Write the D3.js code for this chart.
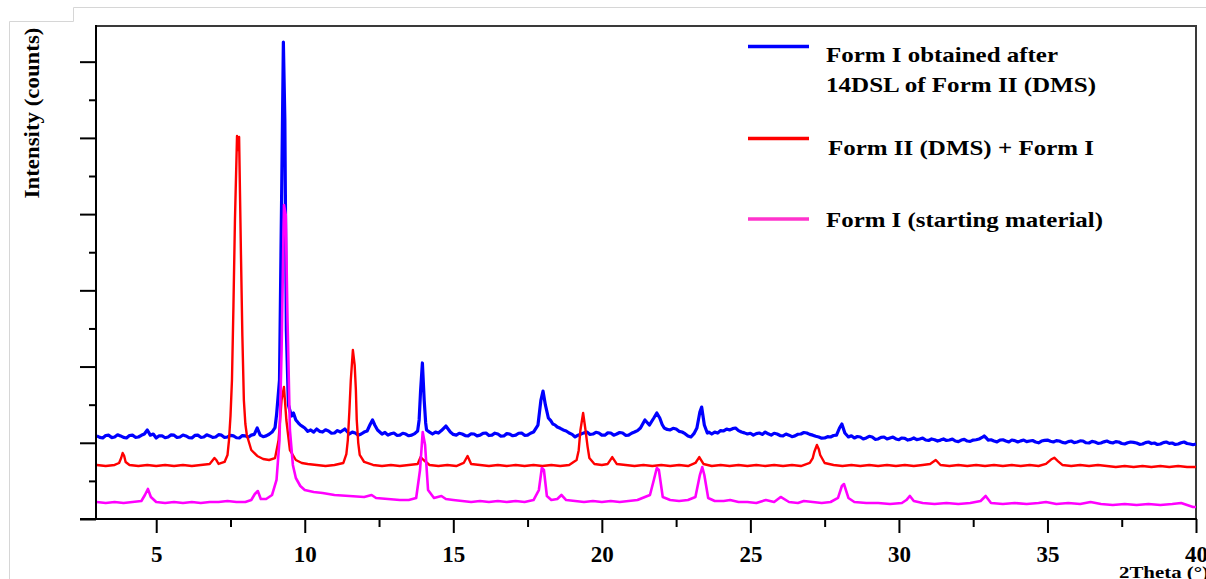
<!DOCTYPE html>
<html>
<head>
<meta charset="utf-8">
<script src="https://cdn.jsdelivr.net/npm/d3@7"></script>
<style>
  html, body { margin: 0; padding: 0; background: #ffffff; }
  svg { display: block; }
  text { font-family: "Liberation Serif", "Times New Roman", Tinos, serif; font-weight: bold; fill: #000; }
</style>
</head>
<body>
<svg id="chart" width="1206" height="579"></svg>
<script>
// ---- Data (2Theta in degrees, intensity in counts) ----
const seriesNames = [
  ["Form I obtained after", "14DSL of Form II (DMS)"],
  ["Form II (DMS) + Form I"],
  ["Form I (starting material)"]
];
const seriesColors = ["#0000ff", "#ff0000", "#ff00ff"];
const legendColors = ["#0000ff", "#ff0000", "#ff33cc"];

const blueData = [
  [3.0,1090],[3.1,1070],[3.2,1063],[3.3,1095],[3.4,1100],[3.5,1068],[3.6,1076],[3.7,1105],[3.8,1090],[3.9,1070],[4.0,1063],
  [4.1,1095],[4.2,1100],[4.3,1072],[4.4,1076],[4.5,1098],[4.6,1115],[4.7,1168],[4.8,1100],[4.9,1115],[5.0,1063],[5.1,1092],
  [5.2,1090],[5.3,1066],[5.4,1076],[5.5,1104],[5.6,1100],[5.7,1070],[5.8,1076],[5.9,1102],[6.0,1090],[6.1,1068],[6.2,1063],
  [6.3,1096],[6.4,1100],[6.5,1072],[6.6,1076],[6.7,1104],[6.8,1090],[6.9,1070],[7.0,1076],[7.1,1106],[7.2,1100],[7.3,1070],
  [7.4,1076],[7.5,1098],[7.6,1090],[7.7,1066],[7.8,1063],[7.9,1094],[8.0,1090],[8.1,1072],[8.2,1100],[8.3,1110],[8.4,1194],
  [8.5,1100],[8.6,1080],[8.7,1090],[8.8,1112],[8.9,1141],[9.0,1200],[9.05,1364],
  [9.15,1824],[9.22,4185],[9.28,6258],[9.33,5235],[9.38,2480],[9.45,1496],[9.55,1351],[9.62,1391],[9.7,1299],[9.78,1262],[9.85,1233],
  [9.92,1215],[10.0,1194],[10.1,1150],[10.2,1168],[10.3,1140],[10.4,1181],[10.5,1150],[10.6,1141],[10.7,1170],[10.8,1155],[10.9,1125],[11.0,1128],
  [11.1,1160],[11.2,1141],[11.35,1181],[11.5,1115],[11.6,1140],[11.7,1128],[11.8,1100],
  [11.9,1115],[12.0,1140],[12.1,1155],[12.2,1240],[12.28,1299],[12.36,1230],[12.45,1168],[12.6,1115],[12.7,1135],[12.8,1100],[12.9,1118],[13.0,1128],[13.1,1098],[13.2,1100],[13.3,1125],[13.4,1115],[13.5,1092],[13.6,1100],
  [13.7,1120],[13.8,1155],[13.85,1300],[13.9,1692],[13.96,2047],[14.02,1561],[14.07,1260],[14.1,1168],[14.2,1140],[14.3,1115],[14.4,1140],[14.5,1128],[14.6,1160],[14.75,1220],[14.9,1141],[15.0,1110],[15.1,1100],
  [15.2,1125],[15.3,1115],[15.4,1095],[15.5,1090],[15.6,1118],[15.7,1115],[15.8,1090],[15.9,1100],[16.0,1124],[16.1,1128],[16.2,1095],[16.3,1100],[16.4,1126],[16.5,1115],[16.6,1088],[16.7,1090],[16.8,1120],[16.9,1115],[17.0,1092],[17.1,1100],
  [17.2,1125],[17.3,1128],[17.4,1098],[17.5,1100],[17.6,1125],[17.7,1141],[17.85,1233],[17.95,1561],[18.02,1679],[18.1,1496],[18.2,1325],[18.28,1290],[18.35,1246],[18.42,1235],[18.5,1207],
  [18.6,1190],[18.7,1168],[18.8,1155],[18.9,1128],[19.0,1110],[19.1,1076],[19.2,1100],[19.3,1115],[19.4,1130],[19.5,1141],[19.6,1110],[19.7,1115],[19.8,1138],[19.9,1128],[20.0,1100],[20.1,1100],[20.2,1130],[20.3,1128],[20.4,1100],[20.5,1115],
  [20.6,1135],[20.7,1128],[20.8,1098],[20.9,1100],[21.0,1125],[21.1,1141],[21.2,1160],[21.3,1194],[21.45,1299],[21.6,1233],[21.75,1325],[21.85,1391],[21.95,1325],[22.03,1240],[22.1,1194],
  [22.2,1175],[22.3,1168],[22.4,1190],[22.5,1181],[22.6,1150],[22.7,1141],[22.8,1120],[22.9,1089],[23.0,1076],[23.1,1120],[23.2,1194],[23.3,1404],[23.36,1469],[23.45,1233],[23.55,1128],
  [23.6,1140],[23.7,1115],[23.8,1140],[23.9,1128],[24.0,1160],[24.1,1155],[24.2,1180],[24.3,1168],[24.4,1185],[24.5,1194],[24.6,1160],[24.7,1141],[24.8,1130],[24.9,1115],[25.0,1125],[25.1,1100],[25.2,1120],[25.3,1128],[25.4,1110],[25.5,1141],
  [25.6,1118],[25.7,1100],[25.8,1125],[25.9,1115],[26.0,1095],[26.1,1090],[26.2,1115],[26.3,1100],[26.4,1080],[26.5,1090],[26.6,1112],[26.7,1115],[26.8,1135],[26.9,1128],[27.0,1110],[27.1,1100],[27.2,1085],[27.3,1076],[27.4,1060],[27.5,1063],
  [27.6,1080],[27.7,1076],[27.8,1095],[27.9,1100],[28.0,1194],[28.08,1246],[28.18,1128],[28.3,1076],[28.4,1092],[28.5,1063],[28.6,1082],[28.7,1076],[28.8,1050],[28.9,1063],[29.0,1085],[29.1,1076],
  [29.2,1045],[29.3,1050],[29.4,1072],[29.5,1076],[29.6,1050],[29.7,1063],[29.8,1075],[29.9,1050],[30.0,1040],[30.1,1063],[30.2,1058],[30.3,1036],[30.4,1045],[30.5,1063],[30.6,1042],[30.7,1050],[30.8,1062],[30.9,1036],[31.0,1030],[31.1,1050],
  [31.2,1040],[31.3,1023],[31.4,1035],[31.5,1050],[31.6,1030],[31.7,1036],[31.8,1048],[31.9,1023],[32.0,1015],[32.1,1036],[32.2,1045],[32.3,1023],[32.4,1018],[32.5,1036],[32.6,1040],[32.7,1050],[32.8,1070],[32.87,1089],[32.95,1060],[33.0,1036],
  [33.1,1040],[33.2,1023],[33.3,1012],[33.4,1036],[33.5,1040],[33.6,1023],[33.7,1010],[33.8,1036],[33.9,1028],[34.0,1010],[34.1,1025],[34.2,1036],[34.3,1015],[34.4,1023],[34.5,1030],[34.6,1010],[34.7,1000],[34.8,1023],[34.9,1032],[35.0,1036],
  [35.1,1020],[35.2,1010],[35.3,1028],[35.4,1023],[35.5,1005],[35.6,997],[35.7,1015],[35.8,1023],[35.9,1002],[36.0,1010],[36.1,1025],[36.2,1023],[36.3,1000],[36.4,997],[36.5,1018],[36.6,1010],[36.7,992],[36.8,997],[36.9,1012],[37.0,1023],
  [37.1,1005],[37.2,997],[37.3,1015],[37.4,1010],[37.5,990],[37.6,984],[37.7,1000],[37.8,1010],[37.9,1005],[38.0,997],[38.1,980],[38.2,984],[38.3,1002],[38.4,1010],[38.5,990],[38.6,997],[38.7,978],[38.8,984],[38.9,1002],[39.0,1010],
  [39.1,992],[39.2,997],[39.3,978],[39.4,984],[39.5,1000],[39.6,1010],[39.7,990],[39.8,984],[39.9,975],[40.0,984]
];

const redData = [
  [3.0,709],[3.3,695],[3.6,709],[3.75,735],[3.82,800],[3.87,866],[3.92,830],[3.97,748],[4.1,709],[4.4,695],[4.7,709],[5.0,695],[5.3,709],[5.6,695],
  [5.9,709],[6.2,695],[6.5,709],[6.8,722],[6.9,770],[6.96,800],[7.03,770],[7.1,722],[7.3,748],[7.4,840],[7.45,1036],[7.5,1350],[7.55,1824],[7.6,2800],[7.65,3923],[7.72,5025],
  [7.76,4841],[7.79,5012],[7.85,3529],[7.9,2400],[7.95,1561],[8.0,1250],[8.05,1102],[8.2,905],[8.4,827],[8.6,787],[8.8,774],[9.0,800],[9.12,1036],
  [9.22,1561],[9.3,1732],[9.38,1299],[9.5,905],[9.7,774],[9.9,735],[10.1,722],[10.4,709],[10.7,695],[11.0,709],[11.3,735],[11.4,850],
  [11.45,1036],[11.5,1400],[11.55,1824],[11.62,2217],[11.68,2020],[11.72,1700],[11.75,1299],[11.8,1000],[11.85,840],[12.0,748],[12.3,709],[12.6,695],[12.9,709],
  [13.2,695],[13.5,709],[13.8,722],[13.9,813],[14.0,774],[14.2,709],[14.5,695],[14.8,709],[15.1,695],[15.35,735],[15.48,827],
  [15.6,722],[15.9,709],[16.2,695],[16.5,709],[16.8,695],[17.1,709],[17.4,695],[17.7,709],[18.0,695],[18.3,709],[18.6,695],
  [18.9,709],[19.15,774],[19.22,900],[19.28,1168],[19.37,1391],[19.45,1168],[19.52,950],[19.58,800],[19.75,722],[20.0,709],[20.2,722],[20.35,813],
  [20.5,722],[20.8,709],[21.1,695],[21.4,709],[21.7,695],[22.0,709],[22.3,695],[22.6,709],[22.9,695],[23.15,735],[23.28,813],
  [23.42,722],[23.7,695],[24.0,709],[24.3,695],[24.6,709],[24.9,695],[25.2,709],[25.5,695],[25.8,709],[26.1,695],[26.4,709],
  [26.7,695],[27.0,735],[27.1,800],[27.15,879],[27.24,971],[27.3,920],[27.35,840],[27.5,735],[27.8,709],[28.1,695],[28.4,709],[28.7,695],[29.0,709],
  [29.3,695],[29.6,709],[29.9,695],[30.2,709],[30.5,695],[30.8,709],[31.05,722],[31.24,774],[31.4,709],[31.7,695],[32.0,709],
  [32.3,695],[32.6,709],[32.9,695],[33.2,709],[33.5,695],[33.8,709],[34.1,695],[34.4,709],[34.7,695],[34.95,722],[35.12,780],
  [35.23,804],[35.35,760],[35.5,709],[35.8,695],[36.1,709],[36.4,695],[36.7,709],[37.0,695],[37.3,682],[37.6,695],[37.9,682],
  [38.2,695],[38.5,682],[38.8,695],[39.1,682],[39.4,695],[39.7,682],[40.0,682]
];

const magentaData = [
  [3.0,223],[3.3,210],[3.6,223],[3.9,210],[4.2,223],[4.5,236],[4.62,315],[4.72,394],[4.82,289],[5.0,223],[5.3,210],[5.6,223],
  [5.9,210],[6.2,223],[6.5,210],[6.8,223],[7.1,223],[7.4,236],[7.7,223],[8.0,223],[8.2,249],[8.32,328],[8.42,367],[8.52,262],
  [8.7,262],[8.9,315],[9.05,512],[9.15,1036],[9.22,2217],[9.3,4120],[9.36,3989],[9.42,2611],[9.5,1168],[9.6,709],[9.7,538],
  [9.85,433],[10.0,380],[10.3,354],[10.6,341],[11.0,315],[11.5,302],[12.0,289],[12.25,315],[12.4,276],[12.8,262],[13.2,249],
  [13.5,249],[13.75,276],[13.88,643],[13.97,1141],[14.05,971],[14.15,380],[14.35,276],[14.6,302],[14.75,262],[15.0,249],
  [15.3,236],[15.6,223],[15.9,236],[16.2,223],[16.5,236],[16.8,223],[17.1,236],[17.4,223],[17.7,249],[17.88,380],[17.98,669],
  [18.05,643],[18.15,302],[18.3,249],[18.5,262],[18.64,315],[18.8,249],[19.1,236],[19.4,223],[19.7,236],[20.0,223],[20.3,236],
  [20.6,223],[20.9,236],[21.2,249],[21.45,289],[21.62,315],[21.75,512],[21.85,669],[21.92,643],[22.05,289],[22.3,249],[22.6,236],
  [22.9,249],[23.15,289],[23.3,577],[23.38,682],[23.45,577],[23.58,276],[23.8,236],[24.1,236],[24.32,249],[24.6,223],[24.9,223],
  [25.2,210],[25.52,249],[25.8,223],[26.02,289],[26.3,223],[26.6,210],[26.8,236],[27.1,223],[27.4,210],[27.7,223],[27.95,276],
  [28.08,433],[28.15,459],[28.3,276],[28.5,223],[28.9,210],[29.3,210],[29.7,197],[30.1,210],[30.25,249],[30.37,302],[30.5,236],
  [30.8,210],[31.2,197],[31.6,210],[32.0,197],[32.4,210],[32.75,236],[32.92,302],[33.1,210],[33.5,197],[33.9,210],[34.3,197],
  [34.7,210],[34.95,223],[35.3,197],[35.7,210],[36.1,197],[36.45,223],[36.8,197],[37.2,184],[37.6,197],[38.0,184],[38.4,197],
  [38.8,184],[39.2,197],[39.5,210],[39.7,184],[39.9,157],[40.0,157]
];

const xMajorTicks = [5, 10, 15, 20, 25, 30, 35, 40];
const xMinorTicks = [7.5, 12.5, 17.5, 22.5, 27.5, 32.5, 37.5];
const yMajorTicks = [0, 1000, 2000, 3000, 4000, 5000, 6000];
const yMinorTicks = [500, 1500, 2500, 3500, 4500, 5500];
const xTitle = "2Theta (°)";
const yTitle = "Intensity (counts)";

// ---- Layout ----
const plot = { left: 96, right: 1196, top: 26, bottom: 519 };
const FONT = "'Liberation Serif', 'Times New Roman', Tinos, serif";
const svg = d3.select("#chart");

const x = d3.scaleLinear().domain([3, 40]).range([plot.left + 0.8, plot.right]);
const y = d3.scaleLinear().domain([0, 6468]).range([plot.bottom, plot.top]);

// faint outer frame (page edge artefact)
svg.append("path")
  .attr("d", "M9.5,579 V21.5 H73.5 V7.5 H1206")
  .attr("fill", "none").attr("stroke", "#d6d6d6").attr("stroke-width", 1);

// top and right frame
svg.append("path")
  .attr("d", `M${plot.left},${plot.top} H${plot.right} V${plot.bottom}`)
  .attr("fill", "none").attr("stroke", "#3a3a3a").attr("stroke-width", 2);

// series
const line = d3.line().x(d => x(d[0])).y(d => y(d[1])).curve(d3.curveLinear);
const allSeries = [blueData, redData, magentaData];
const widths = [3.2, 2.4, 2.6];
const g = svg.append("g");
allSeries.forEach((s, i) => {
  g.append("path").datum(s)
    .attr("d", line)
    .attr("fill", "none")
    .attr("stroke", seriesColors[i])
    .attr("stroke-width", widths[i])
    .attr("stroke-linejoin", "round");
});

// axes
const xMajor = svg.append("g").attr("transform", `translate(0,${plot.bottom})`)
  .call(d3.axisBottom(x).tickValues(xMajorTicks).tickSize(14).tickFormat(d3.format("d")));
xMajor.select(".domain").remove();
xMajor.selectAll("line").attr("stroke", "#000").attr("stroke-width", 2);
xMajor.selectAll("text").attr("y", 43).attr("dy", 0)
  .style("font-size", "23px").style("font-family", FONT).style("font-weight", "bold").attr("fill", "#000");

const xMinor = svg.append("g").attr("transform", `translate(0,${plot.bottom})`)
  .call(d3.axisBottom(x).tickValues(xMinorTicks).tickSize(8).tickFormat(""));
xMinor.select(".domain").remove();
xMinor.selectAll("line").attr("stroke", "#000").attr("stroke-width", 2);

const yMajor = svg.append("g").attr("transform", `translate(${plot.left},0)`)
  .call(d3.axisLeft(y).tickValues(yMajorTicks).tickSize(16).tickFormat(""));
yMajor.select(".domain").remove();
yMajor.selectAll("line").attr("stroke", "#000").attr("stroke-width", 2);

const yMinor = svg.append("g").attr("transform", `translate(${plot.left},0)`)
  .call(d3.axisLeft(y).tickValues(yMinorTicks).tickSize(7).tickFormat(""));
yMinor.select(".domain").remove();
yMinor.selectAll("line").attr("stroke", "#000").attr("stroke-width", 2);

// axis lines
svg.append("line").attr("x1", plot.left).attr("x2", plot.left).attr("y1", plot.top - 1).attr("y2", plot.bottom + 1)
  .attr("stroke", "#000").attr("stroke-width", 2);
svg.append("line").attr("x1", 80).attr("x2", plot.right + 1).attr("y1", plot.bottom).attr("y2", plot.bottom)
  .attr("stroke", "#000").attr("stroke-width", 2);

// axis titles
svg.append("text").attr("x", 1119).attr("y", 577.5)
  .attr("textLength", 90).attr("lengthAdjust", "spacingAndGlyphs")
  .style("font-size", "17px").style("font-family", FONT).text(xTitle);
svg.append("text").attr("transform", "translate(39,113) rotate(-90)")
  .attr("text-anchor", "middle")
  .attr("textLength", 171).attr("lengthAdjust", "spacingAndGlyphs")
  .style("font-size", "21px").style("font-family", FONT).text(yTitle);

// legend
const legendLineY = [46.5, 138.5, 219];
const legendTextY = [[62, 92], [155], [227]];
const legendTextX = [826, 828, 826];
const legendWidths = [[232, 270], [266], [277]];
const leg = svg.append("g");
seriesNames.forEach((names, i) => {
  leg.append("line").attr("x1", 748).attr("x2", 809)
    .attr("y1", legendLineY[i]).attr("y2", legendLineY[i])
    .attr("stroke", legendColors[i]).attr("stroke-width", 3.5);
  names.forEach((t, j) => {
    leg.append("text").attr("x", legendTextX[i]).attr("y", legendTextY[i][j])
      .attr("textLength", legendWidths[i][j]).attr("lengthAdjust", "spacingAndGlyphs")
      .style("font-size", "22px").style("font-family", FONT).text(t);
  });
});
</script>
</body>
</html>
